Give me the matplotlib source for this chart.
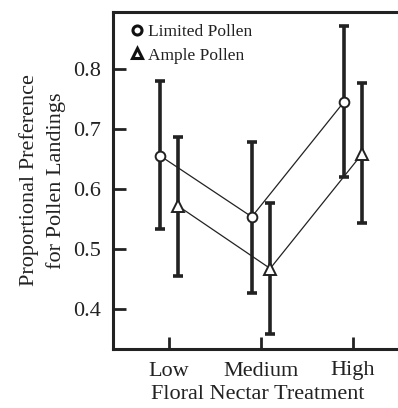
import matplotlib.pyplot as plt
import numpy as np

plt.rcParams['font.family'] = ['Liberation Serif', 'DejaVu Serif']

categories = ['Low', 'Medium', 'High']
limited = [0.656, 0.554, 0.745]
limited_hi = [0.780, 0.679, 0.872]
limited_lo = [0.534, 0.428, 0.620]
ample = [0.572, 0.468, 0.659]
ample_hi = [0.687, 0.577, 0.776]
ample_lo = [0.455, 0.359, 0.543]

x = np.arange(1, len(categories) + 1)
off = 0.1
ink = '#222222'

fig = plt.figure(figsize=(3.98, 4.08), dpi=100)
ax = fig.add_axes([113 / 398, 59 / 408, 1.01 - 113 / 398, 337 / 408])

for vals, hi, lo, xs, mk, ms, lab in [
        (limited, limited_hi, limited_lo, x - off, 'o', 7, 'Limited Pollen'),
        (ample, ample_hi, ample_lo, x + off, '^', 9, 'Ample Pollen')]:
    vals = np.array(vals)
    yerr = [vals - np.array(lo), np.array(hi) - vals]
    ax.errorbar(xs, vals, yerr=yerr, fmt='none', ecolor=ink,
                elinewidth=2.6, capsize=3.8, capthick=2.6, zorder=2)
    ax.plot(xs, vals, color=ink, lw=0.9, zorder=3)
    ax.plot(xs, vals, ls='none', marker=mk, ms=ms, mfc='white',
            mec=ink, mew=1.4, zorder=4)
    ax.plot([], [], ls='none', marker=mk, ms=6.5, mfc='white',
            mec='#111111', mew=2.2, label=lab)

ax.set_xlim(1 - 56 / 92, 1 + (402 - 169) / 92)
ax.set_ylim(0.334, 0.895)
ax.set_xticks(x)
ax.set_xticklabels(categories)
ax.set_yticks([0.4, 0.5, 0.6, 0.7, 0.8])
ax.set_yticklabels(['0.4', '0.5', '0.6', '0.7', '0.8'])
ax.tick_params(direction='in', length=9, width=2, labelsize=16,
               colors=ink, pad=9)
ax.tick_params(axis='y', pad=9)
for s in ax.spines.values():
    s.set_linewidth(2.2)
    s.set_color(ink)

ax.set_xlabel('Floral Nectar Treatment', fontsize=16, color=ink,
              labelpad=3)
ax.set_ylabel('Proportional Preference\nfor Pollen Landings', fontsize=16,
              color=ink, labelpad=5, linespacing=1.45)

ax.legend(loc='upper left', bbox_to_anchor=(0.052, 0.966), frameon=False,
          fontsize=12.5, handletextpad=0.15, borderaxespad=0,
          labelspacing=0.45, handlelength=1.0, borderpad=0,
          labelcolor=ink)

fig.savefig('out.png', dpi=100)
